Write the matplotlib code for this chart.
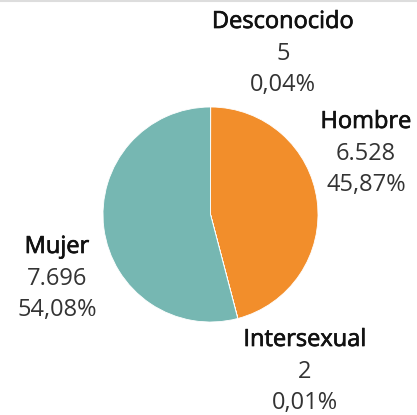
import matplotlib.pyplot as plt
import matplotlib.patheffects as pe

labels = ["Desconocido", "Hombre", "Intersexual", "Mujer"]
counts = [5, 6528, 2, 7696]
count_txt = ["5", "6.528", "2", "7.696"]
pct_txt = ["0,04%", "45,87%", "0,01%", "54,08%"]
colors = ["#4E79A7", "#F28E2B", "#E15759", "#76B7B2"]

# label anchor (pixels, origin top-left) for each slice
label_pos = [(283, 22), (366, 122), (305, 340), (57, 247)]

W, H = 417, 415
fig = plt.figure(figsize=(W / 100, H / 100), dpi=100)
ax = fig.add_axes([0, 0, 1, 1])

ax.pie(counts, colors=colors, startangle=90, counterclock=False,
       center=(210.5, H - 214.5), radius=107.5,
       wedgeprops=dict(edgecolor="white", linewidth=0.6), frame=True)
ax.set_xlim(0, W)
ax.set_ylim(0, H)
ax.set_aspect("equal")
ax.axis("off")

# names a touch heavier than regular (medium look)
medium = [pe.withStroke(linewidth=0.5, foreground="#111111")]

for i, (x, y) in enumerate(label_pos):
    ax.text(x, H - y, labels[i], ha="center", va="center", fontsize=17,
            family="Open Sans", color="#111111", path_effects=medium)
    ax.text(x, H - y - 32, count_txt[i], ha="center", va="center",
            fontsize=17, family="Open Sans", color="#333333")
    ax.text(x, H - y - 63, pct_txt[i], ha="center", va="center",
            fontsize=17, family="Open Sans", color="#333333")

ax.axhline(H - 0.8, color="#dddddd", linewidth=1.5)

fig.savefig("out.png", dpi=100)
